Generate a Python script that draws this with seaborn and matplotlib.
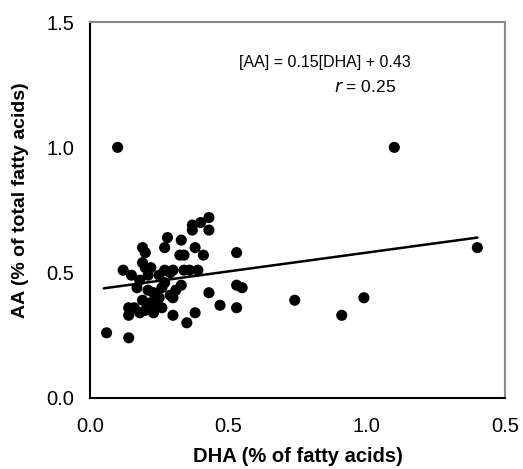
import matplotlib
matplotlib.use('Agg')
import matplotlib.pyplot as plt
import seaborn as sns
import pandas as pd

# DHA and AA values
dha = [0.10, 1.10, 1.40, 0.06, 0.14, 0.12, 0.15, 0.14, 0.14, 0.18,
       0.19, 0.20, 0.19, 0.20, 0.22, 0.18, 0.17, 0.21, 0.19, 0.22,
       0.16, 0.20, 0.24, 0.25, 0.23, 0.26, 0.27, 0.25, 0.29, 0.27,
       0.28, 0.33, 0.31, 0.30, 0.30, 0.33, 0.325, 0.34, 0.30, 0.34,
       0.36, 0.39, 0.27, 0.35, 0.38, 0.37, 0.37, 0.40, 0.43, 0.43,
       0.38, 0.41, 0.43, 0.47, 0.53, 0.53, 0.55, 0.53, 0.74, 0.91,
       0.99, 0.23, 0.29, 0.26, 0.21]
aa = [1.00, 1.00, 0.60, 0.26, 0.24, 0.51, 0.49, 0.36, 0.33, 0.34,
      0.60, 0.58, 0.54, 0.52, 0.52, 0.47, 0.44, 0.43, 0.39, 0.38,
      0.36, 0.35, 0.37, 0.40, 0.34, 0.36, 0.46, 0.49, 0.50, 0.60,
      0.64, 0.63, 0.43, 0.40, 0.33, 0.45, 0.57, 0.57, 0.51, 0.51,
      0.51, 0.51, 0.51, 0.30, 0.34, 0.67, 0.69, 0.70, 0.72, 0.67,
      0.60, 0.57, 0.42, 0.37, 0.58, 0.45, 0.44, 0.36, 0.39, 0.33,
      0.40, 0.42, 0.41, 0.44, 0.49]

slope = 0.15
intercept = 0.43
fit_x = [0.05, 1.40]

df = pd.DataFrame({'DHA': dha, 'AA': aa})
line = pd.DataFrame({'x': fit_x, 'y': [slope * v + intercept for v in fit_x]})

sns.set_style('white')
plt.rcParams['font.family'] = ['Liberation Sans', 'DejaVu Sans']
plt.rcParams['text.color'] = 'black'
plt.rcParams['axes.labelcolor'] = 'black'
plt.rcParams['xtick.color'] = 'black'
plt.rcParams['ytick.color'] = 'black'

fig = plt.figure(figsize=(5.23, 4.69), dpi=100)
ax = fig.add_axes([0.172, 0.1514, 0.7936, 0.8016])

sns.scatterplot(data=df, x='DHA', y='AA', ax=ax, color='black',
                s=64, edgecolor='none', zorder=3)
sns.lineplot(data=line, x='x', y='y', ax=ax, color='black', linewidth=1.8)

ax.set_xlim(0, 1.5)
ax.set_ylim(0, 1.5)
ax.set_xticks([0, 0.5, 1.0, 1.5])
ax.set_xticklabels(['0.0', '0.5', '1.0', '0.5'])
ax.set_yticks([0, 0.5, 1.0, 1.5])
ax.set_yticklabels(['0.0', '0.5', '1.0', '1.5'])
ax.tick_params(axis='both', direction='out', length=4.5, width=1.2,
               labelsize=14.5, color='black')
ax.tick_params(axis='y', pad=7)
ax.tick_params(axis='x', pad=9)

for side in ['left', 'bottom']:
    ax.spines[side].set_color('black')
    ax.spines[side].set_linewidth(1.5)
for side in ['top', 'right']:
    ax.spines[side].set_color('#8a8a8a')
    ax.spines[side].set_linewidth(1.5)

ax.set_xlabel('DHA (% of fatty acids)', fontsize=14.5, fontweight='bold', labelpad=8)
ax.set_ylabel('AA (% of total fatty acids)', fontsize=14, fontweight='bold', labelpad=12)
ax.yaxis.label.set_y(0.527)

ax.text(0.848, 1.34, '[AA] = 0.15[DHA] + 0.43', ha='center', va='center', fontsize=11.5)
ax.text(0.995, 1.24, '$r$ = 0.25', ha='center', va='center', fontsize=12.5)

fig.savefig('out.png', dpi=100)
